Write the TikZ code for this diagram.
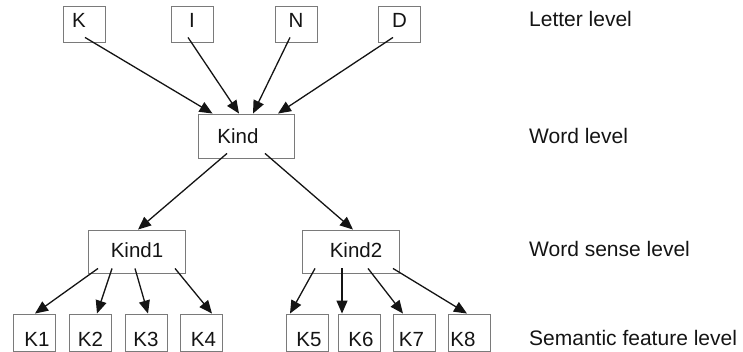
\documentclass[tikz,border=0pt]{standalone}
\usepackage{fontspec}
\setmainfont{Liberation Sans}
\usetikzlibrary{arrows.meta,calc}

\definecolor{boxgray}{HTML}{7A7A7A}
\definecolor{ink}{HTML}{141414}

\begin{document}
\begin{tikzpicture}[x=1pt,y=-1pt,
  box/.style={draw=boxgray, line width=0.9pt, inner sep=0pt, text=ink,
              font=\fontsize{20.5}{24}\selectfont},
  letterbox/.style={box, minimum width=42pt, minimum height=36pt,
              text height=12pt, text depth=4pt},
  wordbox/.style={box, minimum width=96pt, minimum height=44pt},
  sensebox/.style={box, minimum width=97pt, minimum height=43pt,
              text height=11.5pt, text depth=0pt},
  featbox/.style={box, minimum width=42pt, minimum height=37pt,
              text height=28pt, text depth=0pt},
  levellabel/.style={anchor=base west, inner sep=0pt, text=ink,
              font=\fontsize{21}{25}\selectfont},
  arr/.style={draw=ink, line width=1.3pt,
              -{Triangle[length=13pt,width=11pt]}}
]
\useasboundingbox (0,0) rectangle (743,352);

% letter level
\node[letterbox] (K) at (84,24)    {K\kern10pt};
\node[letterbox] (I) at (192,24)   {I};
\node[letterbox] (N) at (296,24)   {N};
\node[letterbox] (D) at (399.5,24) {D};

% word level
\node[wordbox] (Kind) at (246,136) {Kind\kern16pt};

% word sense level
\node[sensebox] (Kind1) at (137,251.5) {Kind1};
\node[sensebox] (Kind2) at (351,251.5) {\kern10pt Kind2};

% semantic feature level
\node[featbox] (K1) at (34,332.5)  {\kern6pt K1};
\node[featbox] (K2) at (90.5,332.5) {K2};
\node[featbox] (K3) at (146,332.5) {K3};
\node[featbox] (K4) at (201.5,332.5) {\kern4pt K4};
\node[featbox] (K5) at (307,332.5) {\kern4pt K5};
\node[featbox] (K6) at (359,332.5) {\kern4pt K6};
\node[featbox] (K7) at (414.5,332.5) {K7\kern6pt};
\node[featbox] (K8) at (469,332.5) {K8\kern12pt};

% level names
\node[levellabel] (lv1) at (529,27)  {Letter level};
\node[levellabel] (lv2) at (529,144) {Word level};
\node[levellabel] (lv3) at (529,257) {Word sense level};
\node[levellabel] (lv4) at (529,345) {Semantic feature level};

% letters feed the word
\draw[arr] ($(K.south)+(1,-5)$)    -- ($(Kind.north west)+(15,0)$);
\draw[arr] ($(I.south)+(-4,-5)$)   -- ($(Kind.north)+(-7,0)$);
\draw[arr] ($(N.south)+(-6,-5)$)   -- ($(Kind.north)+(7,0)$);
\draw[arr] ($(D.south)+(-6.5,-5)$) -- ($(Kind.north)+(32,0)$);

% word to its senses
\draw[arr] ($(Kind.south)+(-19,-5)$) -- ($(Kind1.north)+(1,0)$);
\draw[arr] ($(Kind.south)+(19,-5)$)  -- ($(Kind2.north)+(2,0)$);

% senses to semantic features
\draw[arr] ($(Kind1.south)+(-39,-5)$) -- ($(K1.north)+(1,0)$);
\draw[arr] ($(Kind1.south)+(-25,-5)$) -- ($(K2.north)+(6.5,0)$);
\draw[arr] ($(Kind1.south)+(-2,-5)$)  -- ($(K3.north)+(2,0)$);
\draw[arr] ($(Kind1.south)+(38,-5)$)  -- ($(K4.north)+(10.5,0)$);
\draw[arr] ($(Kind2.south)+(-36,-5)$) -- ($(K5.north)+(-17,0)$);
\draw[arr] ($(Kind2.south)+(-9,-5)$)  -- ($(K6.north)+(-17,0)$);
\draw[arr] ($(Kind2.south)+(17,-5)$)  -- ($(K7.north)+(-11.5,0)$);
\draw[arr] ($(Kind2.south)+(42,-5)$)  -- ($(K8.north)+(-2,0)$);
\end{tikzpicture}
\end{document}
